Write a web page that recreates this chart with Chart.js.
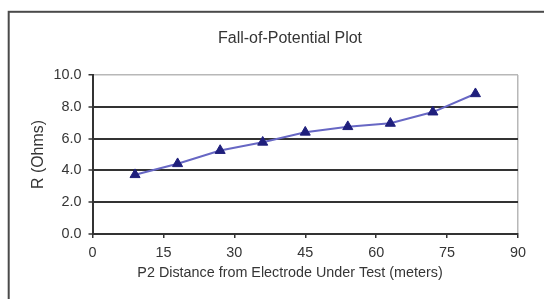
<!DOCTYPE html>
<html>
<head>
<meta charset="utf-8">
<script src="https://cdn.jsdelivr.net/npm/chart.js@4"></script>
<style>
html,body{margin:0;padding:0;background:#fff;}
#wrap{width:544px;height:299px;position:relative;}
</style>
</head>
<body>
<div id="wrap"><canvas id="c" width="544" height="299"></canvas></div>
<script>
const distances = [9, 18, 27, 36, 45, 54, 63, 72, 81];
const resistance = [3.73, 4.42, 5.25, 5.77, 6.4, 6.75, 6.96, 7.67, 8.82];
const xTicks = [0, 15, 30, 45, 60, 75, 90];
const yTicks = [0, 2, 4, 6, 8, 10];
const chartTitle = 'Fall-of-Potential Plot';
const xTitle = 'P2 Distance from Electrode Under Test (meters)';
const yTitle = 'R (Ohms)';

const frame = {
  id: 'frame',
  beforeDraw(chart) {
    const ctx = chart.ctx;
    ctx.save();
    ctx.fillStyle = '#fff';
    ctx.fillRect(0, 0, chart.width, chart.height);
    ctx.strokeStyle = '#4a4a4a';
    ctx.lineWidth = 2;
    ctx.strokeRect(8.7, 11.8, 700, 500);
    ctx.restore();
  }
};

const fam = 'Arial, "Liberation Sans", sans-serif';
const tickFont = { family: fam, size: 14.4 };
const textColor = '#353535';

new Chart(document.getElementById('c'), {
  type: 'scatter',
  data: {
    datasets: [{
      data: distances.map((d, i) => ({ x: d, y: resistance[i] })),
      showLine: true,
      borderColor: '#6767c4',
      borderWidth: 2,
      pointStyle: 'triangle',
      pointRadius: 5.8,
      pointBackgroundColor: '#1f1f7c',
      pointBorderColor: '#1f1f7c',
      pointBorderWidth: 1
    }]
  },
  options: {
    responsive: false,
    animation: false,
    layout: { padding: { left: 36, right: 0, top: 0, bottom: 0 } },
    plugins: {
      legend: { display: false },
      tooltip: { enabled: false },
      title: {
        display: true,
        text: chartTitle,
        color: textColor,
        font: { family: fam, size: 16, weight: 'normal' },
        padding: { top: 28.9, bottom: 26.9 }
      }
    },
    scales: {
      x: {
        type: 'linear',
        min: 0, max: 90,
        afterBuildTicks(s) { s.ticks = xTicks.map(v => ({ value: v })); },
        afterFit(s) { s.height = 30; },
        ticks: { color: textColor, font: tickFont, padding: 6, maxRotation: 0 },
        grid: {
          drawOnChartArea: true,
          color: (c) => c.tick && c.tick.value === 90 ? '#b8b8b8' : 'rgba(0,0,0,0)',
          lineWidth: 1.5,
          tickColor: '#333',
          tickLength: 4,
          tickWidth: 1.5
        },
        border: { color: '#333', width: 2 },
        title: { display: false }
      },
      y: {
        type: 'linear',
        min: 0, max: 10,
        afterBuildTicks(s) { s.ticks = yTicks.map(v => ({ value: v })); },
        afterFit(s) { s.width = 56.5; },
        ticks: { color: textColor, font: tickFont, padding: 7, callback: (v) => v.toFixed(1) },
        grid: {
          color: (c) => c.tick && c.tick.value === 10 ? '#b8b8b8' : '#333',
          lineWidth: (c) => c.tick && c.tick.value === 10 ? 1.5 : 2,
          tickColor: '#333',
          tickLength: 4,
          tickWidth: 1.5
        },
        border: { color: '#333', width: 2 },
        title: {
          display: true, text: yTitle, color: textColor,
          font: { family: fam, size: 15.9 },
          padding: { top: -6.6, bottom: 0 }
        }
      },
      yR: {
        type: 'linear',
        position: 'right',
        display: true,
        afterFit(s) { s.width = 26; },
        ticks: { display: false },
        grid: { display: false, drawOnChartArea: false },
        border: { display: false }
      },
      xT: {
        type: 'linear',
        position: 'bottom',
        fullSize: true,
        display: true,
        afterFit(s) { s.height = 35; },
        ticks: { display: false },
        grid: { display: false, drawOnChartArea: false },
        border: { display: false },
        title: {
          display: true, text: xTitle, color: textColor,
          font: { family: fam, size: 14.35 },
          padding: { top: 0, bottom: 16.9 }
        }
      }
    }
  },
  plugins: [frame]
});
</script>
</body>
</html>
